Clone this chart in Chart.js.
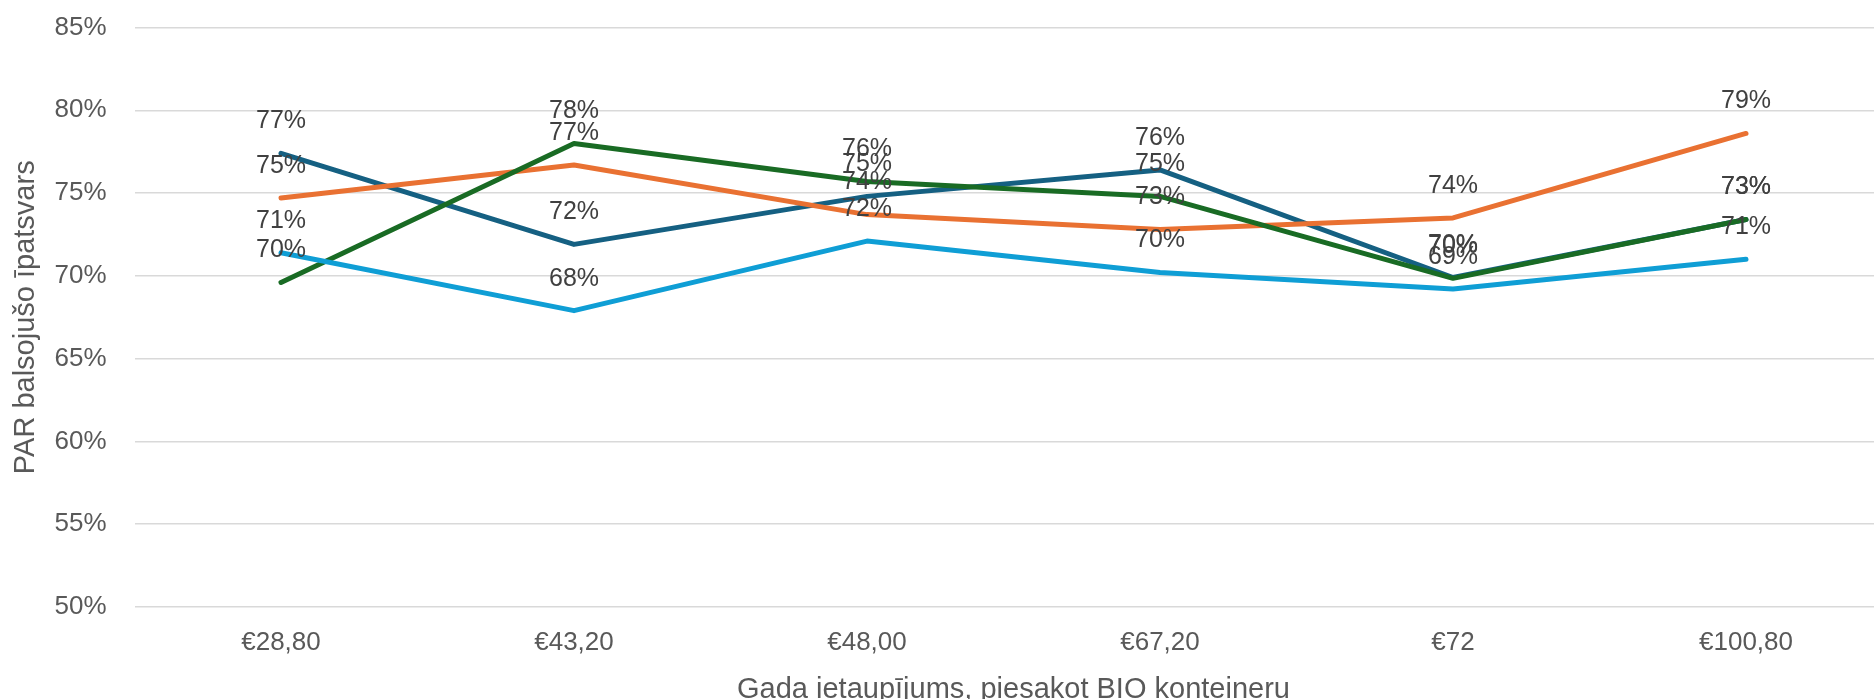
<!DOCTYPE html>
<html>
<head>
<meta charset="utf-8">
<script src="https://cdn.jsdelivr.net/npm/chart.js@4/dist/chart.umd.min.js"></script>
<style>
    html, body {margin: 0; padding: 0; background: #ffffff; overflow: hidden;}
    #wrap {width: 1900px; height: 707px; position: relative;}
</style>
</head>
<body>
<div id="wrap"><canvas id="chartCurve"></canvas></div>
<script>
/* savings per year when ordering a BIO container, share of PAR votes per group */
const categories = ["€28,80", "€43,20", "€48,00", "€67,20", "€72", "€100,80"];
const seriesDarkBlue = [77.4, 71.9, 74.8, 76.4, 69.9, 73.4];
const seriesOrange = [74.7, 76.7, 73.7, 72.8, 73.5, 78.6];
const seriesGreen = [69.6, 78.0, 75.7, 74.8, 69.85, 73.4];
const seriesLightBlue = [71.4, 67.9, 72.1, 70.2, 69.2, 71.0];
const yTitle = "PAR balsojušo īpatsvars";
const xTitle = "Gada ietaupījums, piesakot BIO konteineru";

const FONT = '"Liberation Sans", Arial, sans-serif';
const TEXT_GREY = "#595959";

function lineSet(data, colour, order){
    return {
        data: data,
        borderColor: colour,
        backgroundColor: colour,
        borderWidth: 5,
        borderCapStyle: "round",
        borderJoinStyle: "round",
        pointRadius: 0,
        tension: 0,
        fill: false,
        order: order
    };
}

// draws the "77%" style value above every point
const pointLabels = {
    id: "pointLabels",
    afterDatasetsDraw(chart){
        let ctx = chart.ctx;
        ctx.save();
        ctx.font = "25px " + FONT;
        ctx.fillStyle = "#404040";
        ctx.textAlign = "center";
        ctx.textBaseline = "middle";
        chart.data.datasets.forEach(function(ds, i){
            chart.getDatasetMeta(i).data.forEach(function(pt, j){
                ctx.fillText(Math.round(ds.data[j]) + "%", pt.x, pt.y - 32);
            });
        });
        ctx.restore();
    }
};

var ctxGraph = document.getElementById("chartCurve").getContext("2d");
var chartCurve = new Chart(ctxGraph, {
    type: "line",
    data: {
        labels: categories,
        datasets: [
            lineSet(seriesDarkBlue, "#156082", 4),
            lineSet(seriesOrange, "#E97132", 3),
            lineSet(seriesGreen, "#196B24", 2),
            lineSet(seriesLightBlue, "#0F9ED5", 1)
        ]
    },
    options: {
        responsive: true,
        maintainAspectRatio: false,
        animation: false,
        layout: {padding: {top: 27.5, right: 7.5, left: 0, bottom: 0}},
        plugins: {
            legend: {display: false},
            tooltip: {enabled: false}
        },
        scales: {
            x: {
                type: "category",
                offset: true,
                grid: {display: false, drawTicks: false},
                border: {display: false},
                ticks: {
                    color: TEXT_GREY,
                    padding: 20,
                    font: {family: FONT, size: 26}
                },
                title: {
                    display: true,
                    text: xTitle,
                    color: TEXT_GREY,
                    padding: {top: 0, bottom: 0},
                    font: {family: FONT, size: 29}
                },
                afterFit: function(scale){ scale.height = 100; }
            },
            y: {
                min: 50,
                max: 85,
                grid: {color: "#d9d9d9", lineWidth: 1.5, drawTicks: false},
                border: {display: false},
                ticks: {
                    stepSize: 5,
                    color: TEXT_GREY,
                    padding: 28,
                    font: {family: FONT, size: 26},
                    callback: function(val){ return val + "%"; }
                },
                title: {
                    display: true,
                    text: yTitle,
                    color: TEXT_GREY,
                    padding: {top: 9, bottom: 0},
                    font: {family: FONT, size: 29}
                },
                afterFit: function(scale){
                    scale.width = 134.5;
                    scale.paddingTop = 0;
                    scale.paddingBottom = 0;
                }
            }
        }
    },
    plugins: [pointLabels]
});
</script>
</body>
</html>
